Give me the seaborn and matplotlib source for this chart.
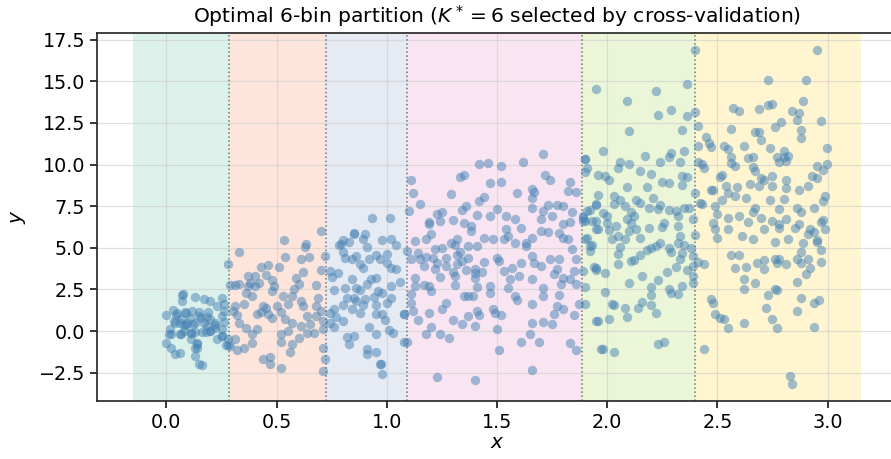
import numpy as np
import pandas as pd
import matplotlib
matplotlib.use("Agg")
import matplotlib.pyplot as plt
import seaborn as sns

# Bin edges of the selected partition (outer edges pad the data range)
bin_edges = [-0.15, 0.282, 0.723, 1.091, 1.886, 2.397, 3.15]
n_bins = 6

# Observations, grouped by the bin they fall in: (x, y)
pts_bin1 = [
    (0.074, 2.2), (0.07, 1.8), (0.13, 2.04), (0.17, 1.9), (0.2, 1.8), (0.25, 1.96),
    (0.26, 1.6), (0.23, 1.5), (0.03, 1.26), (0.0, 0.94), (0.05, 1.1), (0.086, 1.14),
    (0.116, 1.18), (0.147, 1.14), (0.19, 1.14), (0.155, 0.8), (0.106, 0.8), (0.064, 0.7),
    (0.036, 0.6), (0.094, 0.46), (0.13, 0.5), (0.17, 0.5), (0.2, 0.7), (0.25, 0.9),
    (0.26, 1.2), (0.015, 0.1), (0.01, -0.2), (0.064, -0.2), (0.11, -0.1), (0.16, -0.06),
    (0.2, 0.0), (0.25, 0.1), (0.25, -0.3), (0.28, -0.46), (0.11, -0.46), (0.14, -0.8),
    (0.13, -1.0), (0.0, -0.74), (0.02, -1.0), (0.04, -1.4), (0.06, -1.3), (0.13, -1.5),
    (0.15, -2.0), (0.16, -2.06), (0.28, -0.86), (0.08, 0.34), (0.185, 0.3), (0.22, 0.34),
    (0.07, 2.16), (0.045, 0.94), (0.09, 1.1), (0.15, 0.9), (0.185, 0.86), (0.06, 0.5),
    (0.09, 0.38), (0.12, 0.4), (0.2, 0.0), (0.18, -0.06), (0.13, -0.06), (0.14, -0.7),
    (0.06, -0.2), (0.02, -0.2), (0.14, -1.0), (0.23, -0.46), (0.25, -0.3), (0.27, -0.86),
    (0.22, 0.2), (0.22, 0.5), (0.26, 0.54), (0.04, 0.5), (0.08, 0.0), (0.11, -0.1),
]
pts_bin2 = [
    (0.28, 4.0), (0.33, 4.76), (0.535, 5.44), (0.54, 4.44), (0.63, 5.06), (0.633, 5.2),
    (0.61, 4.34), (0.645, 4.42), (0.70, 6.02), (0.72, 4.48), (0.43, 3.86), (0.46, 3.94),
    (0.45, 3.34), (0.51, 3.82), (0.37, 3.3), (0.40, 3.3), (0.29, 2.76), (0.31, 2.78),
    (0.33, 2.8), (0.38, 2.9), (0.42, 2.9), (0.48, 3.06), (0.49, 2.7), (0.48, 2.4),
    (0.59, 3.2), (0.60, 2.8), (0.62, 3.54), (0.58, 2.5), (0.57, 2.1), (0.55, 1.6),
    (0.52, 1.14), (0.54, 0.7), (0.36, 2.3), (0.39, 2.1), (0.35, 1.6), (0.31, 1.5),
    (0.30, 1.2), (0.32, 0.94), (0.33, 0.5), (0.41, 1.0), (0.43, 1.14), (0.44, 1.5),
    (0.45, 1.4), (0.46, 1.0), (0.48, 0.8), (0.36, 0.2), (0.41, 0.1), (0.39, -0.2),
    (0.39, -0.7), (0.31, -0.5), (0.29, -0.9), (0.32, -1.14), (0.35, -1.0), (0.44, -1.7),
    (0.47, -2.0), (0.47, -1.54), (0.52, -2.2), (0.52, -0.66), (0.52, -0.2), (0.55, 0.0),
    (0.57, 0.5), (0.57, -0.8), (0.56, -1.26), (0.60, -0.4), (0.61, 0.3), (0.64, -0.1),
    (0.65, 0.4), (0.67, -0.14), (0.68, 0.9), (0.70, 1.2), (0.68, 1.5), (0.69, 2.0),
    (0.68, 2.74), (0.70, 3.66), (0.71, -1.0), (0.72, -1.7), (0.71, -2.4), (0.71, 0.1),
    (0.71, 0.6), (0.61, 1.8), (0.62, 1.5), (0.64, 0.9), (0.50, 1.5), (0.53, 2.1),
    (0.40, 2.7), (0.37, 2.7),
]
pts_bin3 = [
    (0.935, 6.76), (1.014, 6.8), (0.853, 5.84), (0.90, 5.84), (0.89, 5.5), (0.80, 5.46),
    (0.79, 5.2), (0.83, 5.34), (0.91, 5.06), (0.98, 5.44), (1.02, 5.5), (1.04, 5.16),
    (0.80, 4.74), (0.81, 4.4), (0.84, 4.3), (0.86, 4.5), (0.88, 4.0), (0.89, 3.8),
    (0.92, 4.3), (0.95, 4.54), (0.97, 4.3), (1.0, 4.6), (1.0, 4.1), (1.02, 3.8),
    (1.04, 3.7), (1.06, 2.94), (0.74, 3.6), (0.75, 3.26), (0.78, 3.46), (0.76, 2.46),
    (0.81, 2.6), (0.84, 3.1), (0.86, 2.6), (0.88, 2.46), (0.91, 2.8), (0.93, 3.1),
    (0.95, 3.2), (0.96, 2.4), (0.98, 2.3), (1.02, 2.7), (1.02, 2.0), (1.0, 1.66),
    (0.94, 2.04), (0.90, 1.94), (0.89, 1.54), (0.86, 1.8), (0.84, 1.3), (0.82, 2.0),
    (0.80, 1.54), (0.76, 1.3), (0.77, 0.86), (0.74, 1.1), (0.76, 0.26), (0.80, 0.6),
    (0.88, 1.1), (0.95, 1.54), (0.95, 1.0), (0.98, 1.0), (0.99, 0.66), (0.92, 0.24),
    (0.95, -0.2), (1.01, 0.06), (1.03, -0.1), (0.85, -0.3), (0.83, -0.8), (0.91, -1.1),
    (0.91, -1.4), (0.95, -1.26), (0.97, -1.96), (0.98, -2.56), (1.09, -0.66), (1.08, 1.0),
    (0.74, 0.5), (0.85, 2.0), (0.785, 5.14), (0.85, 5.86), (0.82, -0.34), (0.975, -2.0),
]
pts_bin4 = [
    (1.11, 9.1), (1.12, 8.3), (1.15, 7.66), (1.10, 7.24), (1.19, 6.56), (1.19, 6.4),
    (1.23, 7.06), (1.25, 7.16), (1.24, 6.6), (1.29, 8.24), (1.33, 9.26), (1.35, 9.36),
    (1.34, 7.3), (1.36, 7.5), (1.30, 6.66), (1.35, 6.5), (1.38, 6.3), (1.38, 6.0),
    (1.41, 7.0), (1.42, 10.02), (1.46, 10.1), (1.52, 9.94), (1.52, 8.94), (1.47, 8.9),
    (1.42, 7.8), (1.44, 8.04), (1.47, 6.9), (1.50, 7.36), (1.54, 6.94), (1.54, 6.1),
    (1.59, 8.3), (1.62, 10.18), (1.71, 10.66), (1.72, 9.36), (1.74, 9.06), (1.66, 8.54),
    (1.67, 8.34), (1.66, 8.0), (1.83, 8.94), (1.82, 8.44), (1.86, 8.34), (1.73, 7.6),
    (1.77, 7.6), (1.80, 7.5), (1.84, 7.14), (1.71, 7.2), (1.66, 7.4), (1.58, 6.7),
    (1.61, 6.2), (1.70, 6.7), (1.75, 6.9), (1.83, 6.54), (1.80, 6.4), (1.70, 6.0),
    (1.73, 5.94), (1.78, 5.9), (1.80, 5.6), (1.82, 5.5), (1.63, 5.3), (1.66, 5.6),
    (1.55, 5.7), (1.53, 5.5), (1.58, 5.3), (1.48, 5.54), (1.44, 5.6), (1.41, 5.1),
    (1.37, 5.1), (1.32, 5.5), (1.31, 5.14), (1.29, 5.3), (1.25, 5.0), (1.22, 4.9),
    (1.18, 5.5), (1.20, 5.8), (1.13, 5.4), (1.09, 4.8), (1.11, 4.3), (1.15, 4.34),
    (1.14, 4.66), (1.18, 4.46), (1.21, 4.36), (1.23, 4.1), (1.22, 3.7), (1.24, 3.26),
    (1.27, 4.4), (1.27, 3.9), (1.30, 3.54), (1.31, 3.3), (1.31, 2.74), (1.32, 4.0),
    (1.34, 4.2), (1.36, 3.66), (1.40, 3.2), (1.40, 3.7), (1.37, 4.4), (1.44, 4.14),
    (1.43, 3.54), (1.41, 2.66), (1.37, 2.1), (1.39, 2.1), (1.35, 2.1), (1.41, 1.2),
    (1.42, 0.94), (1.48, 1.3), (1.49, 1.06), (1.52, 0.94), (1.50, 0.1), (1.51, -1.14),
    (1.47, 2.7), (1.47, 2.3), (1.50, 4.4), (1.51, 4.2), (1.53, 3.6), (1.57, 3.8),
    (1.56, 3.14), (1.58, 2.1), (1.59, 1.86), (1.55, 2.6), (1.60, 3.3), (1.61, 4.1),
    (1.63, 5.1), (1.66, 4.5), (1.67, 4.1), (1.70, 3.9), (1.66, 3.1), (1.71, 2.6),
    (1.71, 2.1), (1.66, 1.6), (1.66, 0.5), (1.65, -0.2), (1.66, -2.34), (1.61, -0.64),
    (1.69, -0.64), (1.71, 0.56), (1.75, 0.4), (1.76, 1.0), (1.77, 1.5), (1.78, 2.16),
    (1.76, 3.4), (1.77, 3.7), (1.79, 2.8), (1.80, 3.2), (1.83, 3.14), (1.85, 3.6),
    (1.86, 4.3), (1.84, 4.9), (1.86, 2.8), (1.87, 1.6), (1.85, 0.94), (1.83, -0.7),
    (1.86, -1.14), (1.80, 1.34), (1.74, 4.3), (1.78, 4.3), (1.23, -2.74), (1.40, -2.94),
    (1.18, -0.2), (1.20, 0.26), (1.24, -0.2), (1.28, -0.4), (1.25, 1.3), (1.27, 1.66),
    (1.19, 1.1), (1.14, 0.66), (1.12, 1.2), (1.11, 1.7), (1.08, 1.0), (1.08, -0.66),
    (1.11, 2.2), (1.13, 2.7), (1.17, 2.74), (1.19, 2.7), (1.20, 2.4), (1.17, 3.9),
    (1.13, 3.2), (1.30, 0.66), (1.34, 0.4), (1.37, 0.9), (1.40, 0.3), (1.40, 3.5),
    (1.33, 4.74), (1.32, 4.54),
]
pts_bin5 = [
    (1.95, 14.56), (1.90, 10.36), (1.91, 9.8), (1.90, 9.54), (1.96, 9.4), (1.96, 8.2),
    (1.95, 7.6), (1.92, 7.3), (1.89, 6.9), (1.89, 6.6), (1.93, 6.6), (1.95, 6.1),
    (1.91, 5.6), (1.92, 5.1), (1.92, 4.8), (1.95, 3.8), (1.90, 1.6), (1.96, 0.6),
    (1.97, -1.06), (2.09, 13.8), (2.10, 12.0), (2.22, 14.4), (2.23, 12.96), (2.29, 13.3),
    (2.36, 14.84), (2.36, 12.94), (2.34, 12.06), (1.98, 10.8), (1.90, 10.34), (1.99, 9.34),
    (2.01, 9.1), (2.05, 9.8), (2.06, 10.14), (2.10, 10.06), (2.15, 9.64), (2.17, 10.5),
    (2.20, 9.44), (2.24, 10.14), (2.28, 10.44), (2.29, 10.7), (2.33, 10.14), (2.35, 10.84),
    (2.34, 9.34), (2.36, 9.24), (2.25, 8.94), (2.28, 8.9), (2.34, 8.76), (2.09, 8.66),
    (2.18, 8.64), (2.03, 8.14), (2.06, 7.86), (2.15, 7.7), (2.13, 7.86), (2.21, 8.0),
    (2.24, 7.6), (2.23, 7.34), (2.19, 7.4), (2.08, 7.5), (2.11, 7.14), (2.12, 6.9),
    (2.03, 7.66), (1.91, 7.2), (1.95, 7.66), (1.89, 6.8), (1.98, 7.1), (2.0, 6.94),
    (1.90, 6.6), (1.95, 6.6), (1.96, 6.1), (2.0, 6.5), (2.04, 6.3), (2.09, 6.7),
    (2.11, 6.5), (2.10, 6.0), (2.05, 5.7), (2.08, 5.54), (2.13, 6.14), (2.15, 5.6),
    (2.19, 6.16), (2.25, 6.26), (2.26, 6.5), (2.28, 7.3), (2.31, 7.2), (2.32, 6.9),
    (2.32, 6.3), (2.35, 7.4), (2.37, 7.4), (2.39, 6.74), (2.01, 6.04), (2.02, 5.5),
    (1.90, 5.54), (1.93, 5.14), (2.06, 5.04), (2.05, 4.6), (2.05, 4.04), (2.11, 4.2),
    (2.12, 4.24), (2.15, 4.54), (2.18, 4.86), (2.20, 5.0), (2.24, 5.3), (2.22, 5.1),
    (2.28, 5.0), (2.29, 4.74), (2.32, 5.3), (2.33, 5.7), (2.35, 5.14), (2.34, 4.66),
    (2.33, 4.34), (2.38, 5.0), (2.39, 4.5), (2.36, 3.66), (2.39, 3.3), (2.39, 2.9),
    (1.95, 3.66), (1.94, 3.86), (1.99, 3.5), (1.89, 3.6), (2.16, 3.3), (2.10, 2.9),
    (2.23, 3.06), (2.20, 2.66), (2.27, 3.56), (2.31, 3.84), (2.28, 2.5), (2.29, 2.26),
    (2.32, 2.2), (2.34, 2.7), (2.20, 2.16), (1.99, 2.34), (1.90, 2.64), (2.02, 1.6),
    (2.03, 1.54), (2.08, 1.4), (2.14, 1.4), (2.16, 1.74), (2.20, 1.56), (2.22, 1.06),
    (2.09, 0.86), (2.01, 0.7), (1.95, 0.6), (1.98, -1.06), (2.03, -1.24), (2.23, -0.8),
    (2.26, -0.66), (2.39, 3.9),
]
pts_bin6 = [
    (2.40, 16.9), (2.40, 13.14), (2.41, 12.34), (2.45, 11.66), (2.46, 11.3), (2.47, 11.06),
    (2.41, 11.14), (2.41, 10.14), (2.43, 10.06), (2.44, 9.8), (2.40, 8.3), (2.42, 7.7),
    (2.43, 7.66), (2.40, 5.74), (2.44, 4.0), (2.41, 4.16), (2.47, 1.94), (2.48, 1.66),
    (2.49, 1.0), (2.51, 0.8), (2.53, 0.7), (2.55, 0.2), (2.62, 0.5), (2.44, -1.06),
    (2.47, 8.46), (2.48, 8.46), (2.49, 7.5), (2.50, 7.04), (2.48, 6.46), (2.49, 6.1),
    (2.50, 5.6), (2.51, 9.24), (2.52, 9.36), (2.52, 7.9), (2.54, 8.7), (2.55, 8.3),
    (2.55, 6.8), (2.55, 6.1), (2.56, 12.14), (2.57, 13.4), (2.60, 13.24), (2.53, 11.1),
    (2.55, 10.94), (2.56, 10.1), (2.56, 10.46), (2.58, 9.9), (2.59, 8.66), (2.58, 8.14),
    (2.60, 6.94), (2.56, 4.56), (2.60, 4.56), (2.58, 3.76), (2.62, 11.14), (2.64, 10.4),
    (2.63, 8.0), (2.64, 6.54), (2.61, 5.7), (2.63, 3.86), (2.62, 3.14), (2.62, 2.5),
    (2.66, 10.46), (2.67, 11.94), (2.69, 11.94), (2.70, 11.46), (2.69, 13.36), (2.73, 13.6),
    (2.75, 13.66), (2.73, 15.06), (2.65, 8.86), (2.66, 9.86), (2.67, 9.6), (2.70, 9.2),
    (2.69, 8.74), (2.71, 9.1), (2.66, 7.14), (2.67, 7.4), (2.70, 6.8), (2.71, 6.1),
    (2.66, 5.5), (2.68, 4.1), (2.71, 3.74), (2.71, 4.26), (2.67, 2.9), (2.72, 1.4),
    (2.73, 2.16), (2.74, 11.0), (2.75, 9.34), (2.75, 8.7), (2.74, 7.9), (2.75, 6.6),
    (2.76, 4.3), (2.76, 12.24), (2.79, 12.56), (2.78, 7.36), (2.78, 6.4), (2.78, 6.2),
    (2.76, 5.36), (2.78, 4.34), (2.77, 4.1), (2.80, 7.94), (2.81, 9.06), (2.81, 8.6),
    (2.78, 10.14), (2.77, 10.46), (2.80, 10.8), (2.82, 10.5), (2.81, 10.2), (2.81, 6.7),
    (2.82, 5.5), (2.81, 4.0), (2.76, 2.5), (2.77, 2.46), (2.75, 0.74), (2.77, 0.2),
    (2.83, -2.7), (2.84, -3.2), (2.84, 13.2), (2.86, 12.66), (2.87, 13.1), (2.88, 12.1),
    (2.88, 11.6), (2.89, 13.8), (2.90, 15.1), (2.95, 16.9), (2.97, 12.64), (2.87, 8.46),
    (2.86, 7.4), (2.88, 7.14), (2.85, 6.2), (2.87, 6.4), (2.89, 5.3), (2.88, 4.74),
    (2.86, 4.34), (2.88, 4.1), (2.86, 2.94), (2.88, 2.0), (2.86, 1.2), (2.91, 8.7),
    (2.91, 4.3), (2.92, 3.8), (2.90, 3.4), (2.94, 7.4), (2.92, 6.14), (2.94, 5.94),
    (2.93, 9.3), (2.95, 9.2), (2.95, 9.9), (2.98, 9.7), (2.997, 10.04), (2.997, 11.0),
    (2.95, 5.46), (2.95, 5.34), (2.97, 4.86), (2.97, 4.16), (2.97, 6.54), (2.98, 6.66),
    (2.99, 6.1), (2.98, 7.8), (2.99, 8.1), (2.94, 1.7), (2.96, 1.86), (2.94, 0.24),
    (2.91, 5.8), (2.80, 10.46),
]

all_bins = [pts_bin1, pts_bin2, pts_bin3, pts_bin4, pts_bin5, pts_bin6]
df = pd.DataFrame(
    [(x, y, i) for i, pts in enumerate(all_bins) for (x, y) in pts],
    columns=["x", "y", "bin"],
)

title = r"Optimal 6-bin partition ($K^*=6$ selected by cross-validation)"

sns.set_theme(style="ticks", context="notebook")
plt.rcParams["font.family"] = ["DejaVu Sans"]
plt.rcParams["mathtext.fontset"] = "dejavusans"
plt.rcParams["text.color"] = "black"
plt.rcParams["axes.labelcolor"] = "black"
plt.rcParams["xtick.color"] = "black"
plt.rcParams["ytick.color"] = "black"
plt.rcParams["xtick.labelsize"] = 13.8
plt.rcParams["ytick.labelsize"] = 13.8

fig = plt.figure(figsize=(8.91, 4.59), dpi=100)
ax = fig.add_axes([97 / 891, 58 / 459, 800 / 891, 368 / 459])

band_colors = sns.color_palette("Set2", n_bins)
for i in range(n_bins):
    ax.axvspan(bin_edges[i], bin_edges[i + 1], color=band_colors[i], alpha=0.22,
               lw=0, zorder=0)
for edge in bin_edges[1:-1]:
    ax.axvline(edge, color="#555555", ls=":", lw=1.1, alpha=0.8, zorder=1)

sns.scatterplot(data=df, x="x", y="y", ax=ax, color="steelblue", alpha=0.5,
                s=46, linewidth=0, zorder=3)

ax.set_xlim(-0.315, 3.315)
ax.set_ylim(-4.2, 17.9)
ax.set_xticks(np.arange(0, 3.01, 0.5))
ax.set_yticks(np.arange(-2.5, 17.6, 2.5))
ax.grid(True, color="#cccccc", alpha=0.6, lw=0.9)
ax.set_axisbelow(True)
ax.tick_params(length=5, width=1.1)
ax.set_xlabel(r"$x$", fontsize=14.5, labelpad=1)
ax.set_ylabel(r"$y$", fontsize=14.5, labelpad=8)
ax.set_title(title, fontsize=14.6, pad=7)
for sp in ax.spines.values():
    sp.set_color("#222222")
    sp.set_linewidth(1.2)
ax.spines["right"].set_visible(False)

fig.savefig("out.png", dpi=100)
